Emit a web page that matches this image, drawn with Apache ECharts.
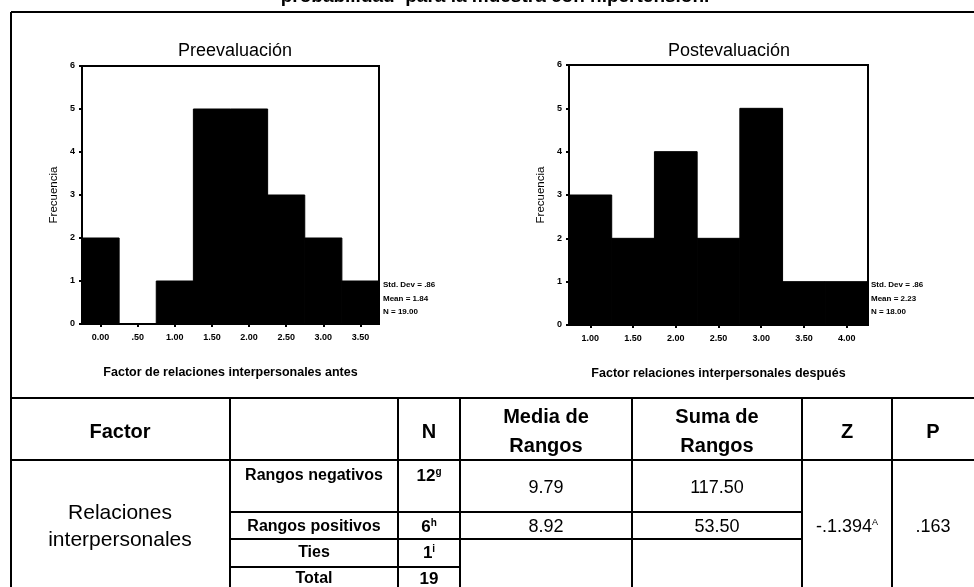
<!DOCTYPE html>
<html>
<head>
<meta charset="utf-8">
<title>Relaciones interpersonales</title>
<script src="https://cdn.jsdelivr.net/npm/echarts@6/dist/echarts.min.js"></script>
<style>
  html, body { margin: 0; padding: 0; background: #fff; }
  #chart { width: 974px; height: 587px; }
</style>
</head>
<body>
<div id="chart"></div>
<script>
// Histogram bins (bin centres) and frequencies
const preBins = ['0.00', '.50', '1.00', '1.50', '2.00', '2.50', '3.00', '3.50'];
const preFreq = [2, 0, 1, 5, 5, 3, 2, 1];
const postBins = ['1.00', '1.50', '2.00', '2.50', '3.00', '3.50', '4.00'];
const postFreq = [3, 2, 4, 2, 5, 1, 1];

// Summary statistics printed beside each histogram
const preStats = ['Std. Dev = .86', 'Mean = 1.84', 'N = 19.00'];
const postStats = ['Std. Dev = .86', 'Mean = 2.23', 'N = 18.00'];

// Wilcoxon table contents
const tableHeader = ['Factor', '', 'N', 'Media de\nRangos', 'Suma de\nRangos', 'Z', 'P'];
const factorName = 'Relaciones\ninterpersonales';
const rowLabels = ['Rangos negativos', 'Rangos positivos', 'Ties', 'Total'];
const rowN = ['12', '6', '1', '19'];
const rowNSup = ['g', 'h', 'i', ''];
const mediaRangos = ['9.79', '8.92'];
const sumaRangos = ['117.50', '53.50'];
const zValue = '-.1.394';
const zSup = 'A';
const pValue = '.163';

const FONT = '"Liberation Sans", Arial, Helvetica, sans-serif';
const chart = echarts.init(document.getElementById('chart'), null, { renderer: 'canvas' });

function xAxisFor(idx, bins, name) {
  return {
    type: 'category', gridIndex: idx, data: bins,
    axisLine: { show: true, lineStyle: { color: '#000', width: 2 } },
    axisTick: { show: true, alignWithLabel: true, length: 3, lineStyle: { color: '#000', width: 2 } },
    axisLabel: { color: '#000', fontSize: 9, fontWeight: 'bold', fontFamily: FONT, margin: 9 },
    splitLine: { show: false }, splitArea: { show: false },
    name: name, nameLocation: 'middle', nameGap: 42,
    nameTextStyle: { color: '#000', fontSize: 12.5, fontWeight: 'bold', fontFamily: FONT }
  };
}
function yAxisFor(idx) {
  return {
    type: 'value', gridIndex: idx, min: 0, max: 6, interval: 1,
    splitLine: { show: false }, splitArea: { show: false },
    axisLine: { show: true, lineStyle: { color: '#000', width: 2 } },
    axisTick: { show: true, length: 3, lineStyle: { color: '#000', width: 2 } },
    axisLabel: { color: '#000', fontSize: 9, fontWeight: 'bold', fontFamily: FONT, margin: 7 },
    name: 'Frecuencia', nameLocation: 'middle', nameGap: 22, nameRotate: 90,
    nameTextStyle: { color: '#000', fontSize: 11.5, fontFamily: FONT }
  };
}

// Histogram bars: one solid rectangle per bin, sized from the category band
function histogramBar(params, api) {
  const idx = api.value(0);
  const top = api.coord([idx, api.value(1)]);
  const base = api.coord([idx, 0]);
  const w = api.size([1, 0])[0];
  return {
    type: 'rect',
    shape: { x: top[0] - w / 2, y: top[1], width: w, height: base[1] - top[1] },
    style: { fill: '#000', stroke: '#000', lineWidth: 1 }
  };
}

const graphics = [];
function line(x1, y1, x2, y2, w) {
  graphics.push({ type: 'line', shape: { x1, y1, x2, y2 }, style: { stroke: '#000', lineWidth: w || 2 }, silent: true });
}
function text(x, y, str, size, weight, extra) {
  graphics.push({
    type: 'text', x, y, silent: true,
    style: Object.assign({
      text: str, fill: '#000', font: (weight || 'normal') + ' ' + size + 'px ' + FONT,
      textAlign: 'center', textVerticalAlign: 'middle'
    }, extra || {})
  });
}

// Outer frame and the cut-off heading above it
text(495, -3, 'probabilidad  para la muestra con hipertensión.', 19, 'bold');
line(11, 12, 974, 12);
line(11, 12, 11, 587);

// Stats beside histograms
preStats.forEach((s, i) => text(383, 285 + i * 13.5, s, 8, 'bold', { textAlign: 'left' }));
postStats.forEach((s, i) => text(871, 285 + i * 13.5, s, 8, 'bold', { textAlign: 'left' }));

// Table grid
const colX = [11, 230, 398, 460, 632, 802, 892, 974];
const tTop = 398, tHead = 460, r1 = 512, r2 = 539, r3 = 567, tBot = 587;
line(11, tTop, 974, tTop);
line(11, tHead, 974, tHead);
line(230, r1, 802, r1);
line(230, r2, 802, r2);
line(230, r3, 460, r3);
colX.slice(1, 7).forEach(x => line(x, tTop, x, tBot));

const colC = [120, 314, 429, 546, 717, 847, 933];
tableHeader.forEach((h, i) => {
  if (h) text(colC[i], 432, h, 20, 'bold', { lineHeight: 29 });
});
text(colC[0], 527, factorName, 21, 'normal', { lineHeight: 27 });
const rowY = [476, 527, 553, 579];
rowLabels.forEach((l, i) => text(colC[1], rowY[i], l, 16, 'bold'));
rowN.forEach((n, i) => {
  graphics.push({
    type: 'text', x: colC[2], y: rowY[i], silent: true,
    style: {
      text: '{v|' + n + '}' + (rowNSup[i] ? '{s|' + rowNSup[i] + '}' : ''),
      textAlign: 'center', textVerticalAlign: 'middle',
      rich: {
        v: { fontSize: 17, fontWeight: 'bold', fontFamily: FONT, fill: '#000', color: '#000' },
        s: { fontSize: 10, fontWeight: 'bold', fontFamily: FONT, fill: '#000', color: '#000', padding: [0, 0, 8, 0] }
      }
    }
  });
});
const valY = [488, 527];
mediaRangos.forEach((v, i) => text(colC[3], valY[i], v, 18, 'normal'));
sumaRangos.forEach((v, i) => text(colC[4], valY[i], v, 18, 'normal'));
graphics.push({
  type: 'text', x: colC[5], y: 527, silent: true,
  style: {
    text: '{v|' + zValue + '}{s|' + zSup + '}',
    textAlign: 'center', textVerticalAlign: 'middle',
    rich: {
      v: { fontSize: 18, fontFamily: FONT, fill: '#000', color: '#000' },
      s: { fontSize: 9, fontFamily: FONT, fill: '#000', color: '#000', padding: [0, 0, 9, 0] }
    }
  }
});
text(colC[6], 527, pValue, 18, 'normal');

const option = {
  backgroundColor: '#fff',
  animation: false,
  title: [
    { text: 'Preevaluación', left: 230, top: 37, textAlign: 'center',
      textStyle: { color: '#000', fontSize: 18, fontWeight: 'normal', fontFamily: FONT } },
    { text: 'Postevaluación', left: 724, top: 37, textAlign: 'center',
      textStyle: { color: '#000', fontSize: 18, fontWeight: 'normal', fontFamily: FONT } }
  ],
  grid: [
    { left: 82, top: 66, width: 297, height: 258, show: true, borderColor: '#000', borderWidth: 2, backgroundColor: 'transparent', outerBoundsMode: 'none' },
    { left: 569, top: 65, width: 299, height: 260, show: true, borderColor: '#000', borderWidth: 2, backgroundColor: 'transparent', outerBoundsMode: 'none' }
  ],
  xAxis: [
    xAxisFor(0, preBins, 'Factor de relaciones interpersonales antes'),
    xAxisFor(1, postBins, 'Factor relaciones interpersonales después')
  ],
  yAxis: [yAxisFor(0), yAxisFor(1)],
  series: [
    { type: 'custom', xAxisIndex: 0, yAxisIndex: 0, silent: true,
      data: preFreq.map((f, i) => [i, f]), encode: { x: 0, y: 1 }, renderItem: histogramBar },
    { type: 'custom', xAxisIndex: 1, yAxisIndex: 1, silent: true,
      data: postFreq.map((f, i) => [i, f]), encode: { x: 0, y: 1 }, renderItem: histogramBar }
  ],
  graphic: graphics
};
chart.setOption(option);
</script>
</body>
</html>
